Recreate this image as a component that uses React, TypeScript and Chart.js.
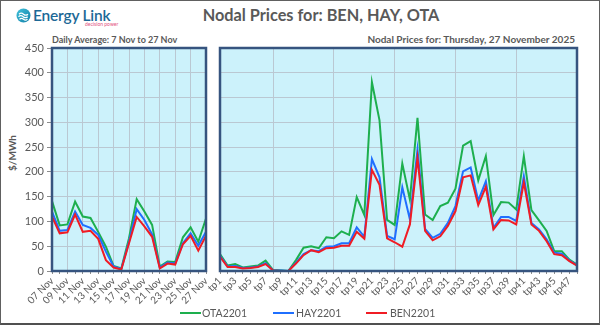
import React, { useEffect, useRef } from 'react';
import { Chart, registerables } from 'chart.js';

Chart.register(...registerables);

const dayLabels = ['07 Nov', '08 Nov', '09 Nov', '10 Nov', '11 Nov', '12 Nov', '13 Nov', '14 Nov', '15 Nov', '16 Nov', '17 Nov', '18 Nov', '19 Nov', '20 Nov', '21 Nov', '22 Nov', '23 Nov', '24 Nov', '25 Nov', '26 Nov', '27 Nov'];
const dailyOTA = [141, 92, 94, 140, 110, 107, 79, 49, 10, 5, 66, 145, 120, 93, 9, 19, 18, 68, 88, 59, 106];
const dailyHAY = [120, 81, 83, 120, 93, 87, 73, 39, 9, 4, 59, 125, 103, 74, 7, 17, 15, 56, 76, 51, 79];
const dailyBEN = [110, 76, 78, 114, 79, 81, 65, 22, 7, 3, 56, 109, 90, 69, 5, 15, 13, 54, 71, 41, 71];

const tpLabels = ['tp1', 'tp2', 'tp3', 'tp4', 'tp5', 'tp6', 'tp7', 'tp8', 'tp9', 'tp10', 'tp11', 'tp12', 'tp13', 'tp14', 'tp15', 'tp16', 'tp17', 'tp18', 'tp19', 'tp20', 'tp21', 'tp22', 'tp23', 'tp24', 'tp25', 'tp26', 'tp27', 'tp28', 'tp29', 'tp30', 'tp31', 'tp32', 'tp33', 'tp34', 'tp35', 'tp36', 'tp37', 'tp38', 'tp39', 'tp40', 'tp41', 'tp42', 'tp43', 'tp44', 'tp45', 'tp46', 'tp47', 'tp48'];
const tpOTA = [34, 11, 14, 7, 9, 11, 21, 2, 1, 0, 22, 47, 50, 46, 68, 66, 80, 73, 149, 113, 381, 304, 103, 93, 217, 144, 309, 114, 103, 131, 138, 166, 253, 262, 183, 232, 113, 139, 138, 124, 232, 123, 102, 81, 40, 40, 23, 13];
const tpHAY = [31, 9, 10, 6, 7, 9, 16, 1, 1, 0, 17, 34, 42, 40, 49, 50, 56, 56, 88, 69, 226, 189, 71, 64, 169, 104, 245, 85, 67, 75, 97, 131, 201, 209, 142, 181, 87, 109, 109, 101, 191, 97, 84, 64, 37, 35, 21, 12];
const tpBEN = [29, 8, 8, 5, 6, 8, 14, 1, 0, 0, 15, 32, 42, 38, 46, 47, 51, 51, 79, 65, 204, 174, 66, 58, 49, 94, 228, 81, 62, 70, 91, 121, 189, 193, 133, 170, 84, 103, 102, 94, 179, 94, 81, 60, 34, 32, 20, 11];

const seriesNames = ['OTA2201', 'HAY2201', 'BEN2201'];
const seriesColors = ['#1DAF4E', '#1F6FFF', '#F01C24'];
const yTicks = { min: 0, max: 450, step: 50 };

const GRID = '#BAC8D2';
const TEXT = '#595959';
const FONT = 'Lato, "Liberation Sans", sans-serif';

const plotFrame = {
  id: 'plotFrame',
  beforeDraw(chart: any) {
    const { ctx, chartArea } = chart;
    ctx.save();
    ctx.fillStyle = '#CCF2FB';
    ctx.fillRect(chartArea.left, chartArea.top, chartArea.right - chartArea.left, chartArea.bottom - chartArea.top);
    ctx.restore();
  },
  afterDraw(chart: any) {
    const { ctx, chartArea } = chart;
    ctx.save();
    ctx.strokeStyle = '#36547F';
    ctx.lineWidth = 2.5;
    ctx.strokeRect(chartArea.left, chartArea.top, chartArea.right - chartArea.left, chartArea.bottom - chartArea.top);
    ctx.restore();
  },
};

function makeDatasets(ota: number[], hay: number[], ben: number[]) {
  const vals = [ota, hay, ben];
  // draw BEN on top: first dataset is drawn last
  return [2, 1, 0].map((i) => ({
    label: seriesNames[i],
    data: vals[i],
    borderColor: seriesColors[i],
    backgroundColor: seriesColors[i],
    borderWidth: 2,
    pointRadius: 0,
    tension: 0,
    fill: false,
  }));
}

function buildConfig(labels: string[], ds: any[], opts: { yWidth: number; showY: boolean; gridEvery: (i: number) => boolean; padRight: number; xHeight: number; padTop: number }) {
  return {
    type: 'line' as const,
    data: { labels, datasets: ds },
    plugins: [plotFrame],
    options: {
      animation: false,
      responsive: false,
      maintainAspectRatio: false,
      events: [],
      layout: { padding: { top: opts.padTop, right: opts.padRight, left: 0, bottom: 0 } },
      plugins: { legend: { display: false }, tooltip: { enabled: false }, title: { display: false } },
      scales: {
        x: {
          type: 'category',
          grid: {
            color: (c: any) => (opts.gridEvery(c.index) ? GRID : 'rgba(0,0,0,0)'),
            tickColor: '#8C8C8C',
            tickLength: 3,
            drawTicks: true,
          },
          border: { display: false },
          ticks: {
            autoSkip: false,
            minRotation: 45,
            maxRotation: 45,
            padding: 1,
            color: TEXT,
            font: { family: FONT, size: 10 },
            callback: (_v: any, i: number) => (i % 2 === 0 ? labels[i] : ''),
          },
          afterFit: (s: any) => {
            s.height = opts.xHeight;
            s.paddingLeft = 0;
            s.paddingRight = 0;
          },
        },
        y: {
          min: yTicks.min,
          max: yTicks.max,
          grid: { color: GRID, drawTicks: opts.showY, tickLength: 5, tickColor: '#8C8C8C' },
          border: { display: false },
          ticks: {
            display: opts.showY,
            stepSize: yTicks.step,
            padding: 3,
            color: TEXT,
            font: { family: FONT, size: 11 },
          },
          afterFit: (s: any) => {
            s.width = opts.yWidth;
            s.paddingTop = 0;
            s.paddingBottom = 0;
          },
        },
      },
    },
  };
}

export default function App() {
  const leftRef = useRef<HTMLCanvasElement>(null);
  const rightRef = useRef<HTMLCanvasElement>(null);

  useEffect(() => {
    const left = new Chart(
      leftRef.current as HTMLCanvasElement,
      buildConfig(dayLabels, makeDatasets(dailyOTA, dailyHAY, dailyBEN), {
        yWidth: 52,
        showY: true,
        gridEvery: (i) => i % 2 === 0,
        padRight: 6,
        xHeight: 51,
        padTop: 8,
      }) as any
    );
    const right = new Chart(
      rightRef.current as HTMLCanvasElement,
      buildConfig(tpLabels, makeDatasets(tpOTA, tpHAY, tpBEN), {
        yWidth: 25,
        showY: false,
        gridEvery: (i) => (i + 1) % 8 === 0,
        padRight: 23,
        xHeight: 51,
        padTop: 8,
      }) as any
    );
    return () => {
      left.destroy();
      right.destroy();
    };
  }, []);

  const abs = (s: React.CSSProperties): React.CSSProperties => ({ position: 'absolute', ...s });
  const legendPos = [
    { line: 180, text: 202 },
    { line: 273, text: 296 },
    { line: 366, text: 390 },
  ];

  return (
    <div
      style={{
        position: 'fixed',
        left: 0,
        top: 0,
        width: 600,
        height: 325,
        background: '#fff',
        overflow: 'hidden',
        fontFamily: FONT,
        boxSizing: 'border-box',
        border: '1px solid #606060',
        borderBottom: '2px solid #505050',
      }}
    >
      <div style={abs({ left: -1, top: -1, width: 600, height: 326 })}>
        {/* logo */}
        <svg style={abs({ left: 16, top: 8 })} width={15} height={15} viewBox="0 0 15 15">
          <defs>
            <linearGradient id="lg" x1="0" y1="0" x2="1" y2="1">
              <stop offset="0" stopColor="#3FC1DA" />
              <stop offset="1" stopColor="#137FA8" />
            </linearGradient>
          </defs>
          <circle cx="7.5" cy="7.5" r="7" fill="url(#lg)" />
          <path d="M3 6.2 q2.2 -2 4.5 0 t4.5 0" stroke="#fff" strokeWidth="1.2" fill="none" />
          <path d="M2.5 8.7 q2.3 -2 4.6 0 t4.6 0" stroke="#fff" strokeWidth="1.2" fill="none" />
          <path d="M3.5 11.2 q2 -1.7 4 0 t4 0" stroke="#fff" strokeWidth="1.2" fill="none" />
        </svg>
        <div style={abs({ left: 33, top: 6, fontSize: 15.5, fontWeight: 600, color: '#1C6896', letterSpacing: -0.2, whiteSpace: 'nowrap' })}>
          Energy Link
        </div>
        <div style={abs({ left: 85, top: 22, fontSize: 5, color: '#E2507E', whiteSpace: 'nowrap', lineHeight: '5px' })}>
          decision power
        </div>

        {/* title */}
        <div style={abs({ left: 42, width: 558, top: 5, textAlign: 'center', fontSize: 16.3, fontWeight: 700, color: TEXT, whiteSpace: 'nowrap' })}>
          Nodal Prices for: BEN, HAY, OTA
        </div>
        <div style={abs({ left: 52, top: 34, fontSize: 9, fontWeight: 700, color: TEXT, whiteSpace: 'nowrap' })}>
          Daily Average: 7 Nov to 27 Nov
        </div>
        <div style={abs({ right: 25, top: 33, fontSize: 10, fontWeight: 700, color: TEXT, whiteSpace: 'nowrap', textAlign: 'right' })}>
          Nodal Prices for: Thursday, 27 November 2025
        </div>

        {/* y axis title */}
        <div
          style={abs({
            left: 12,
            top: 153,
            transform: 'translate(-50%, -50%) rotate(-90deg)',
            fontSize: 10,
            fontWeight: 700,
            color: TEXT,
            whiteSpace: 'nowrap',
          })}
        >
          $/MWh
        </div>

        {/* charts */}
        <canvas ref={leftRef} width={212} height={282} style={abs({ left: 0, top: 40, width: 212, height: 282 })} />
        <canvas ref={rightRef} width={405} height={282} style={abs({ left: 195, top: 40, width: 405, height: 282 })} />

        {/* legend */}
        {seriesNames.map((n, i) => (
          <React.Fragment key={n}>
            <div style={abs({ left: legendPos[i].line, top: 312, width: 21, height: 2, background: seriesColors[i] })} />
            <div style={abs({ left: legendPos[i].text, top: 306, fontSize: 10.5, color: TEXT, whiteSpace: 'nowrap', lineHeight: '14px' })}>
              {n}
            </div>
          </React.Fragment>
        ))}
      </div>
    </div>
  );
}
